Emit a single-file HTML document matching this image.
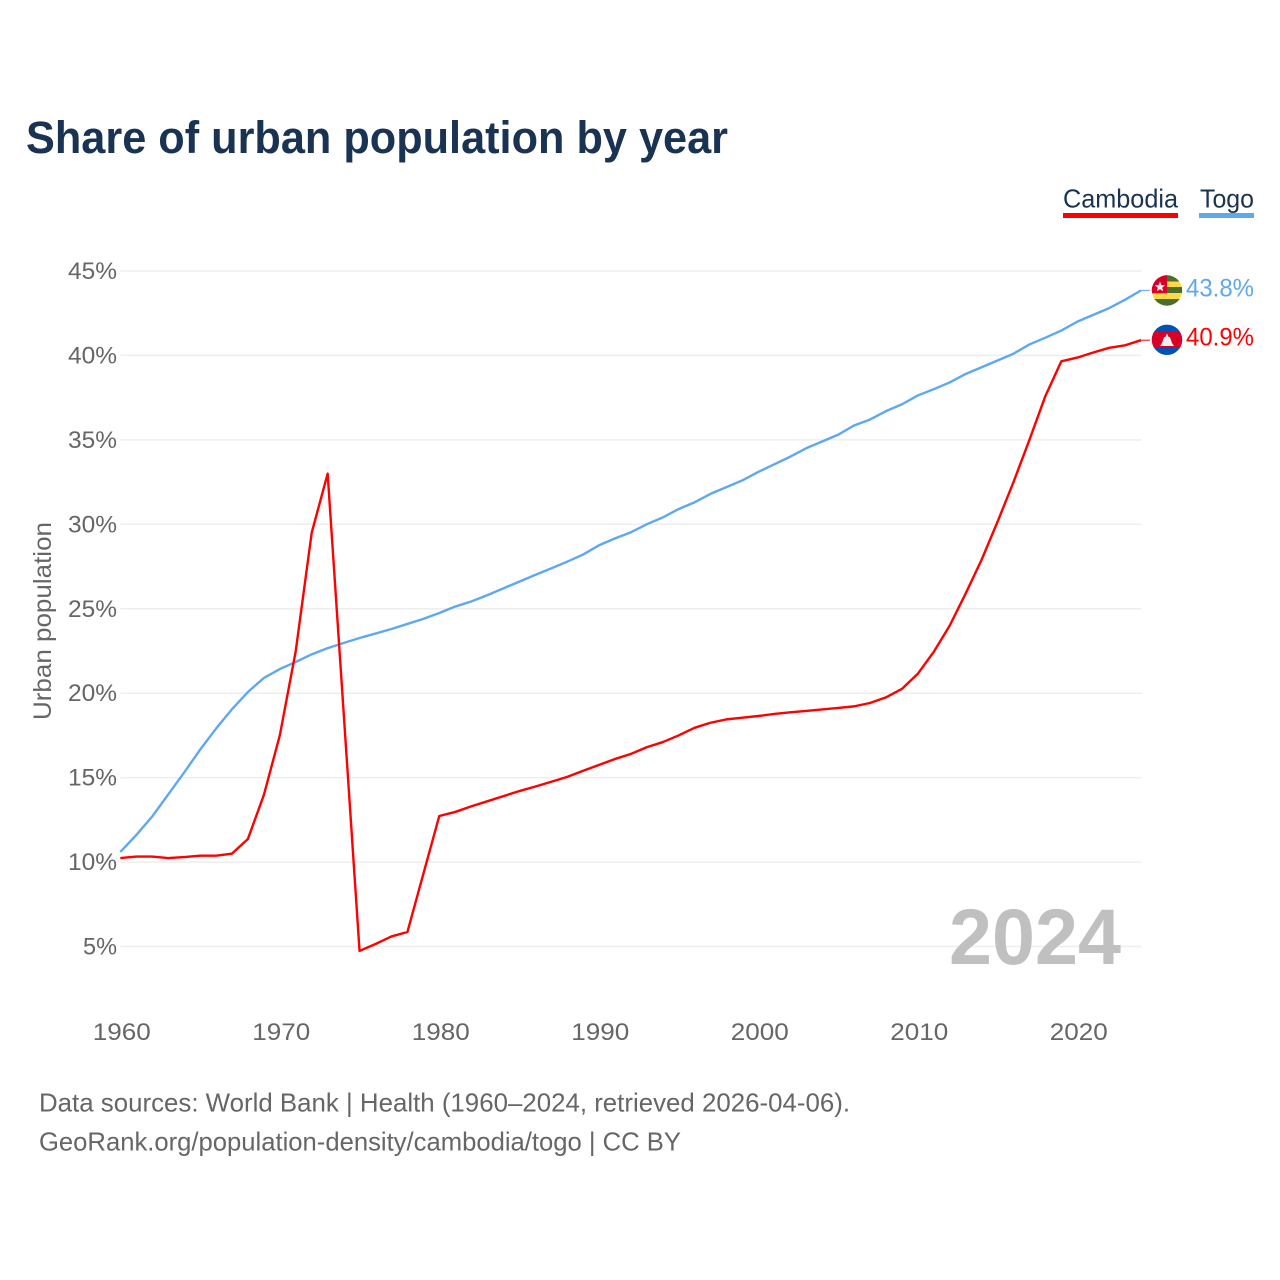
<!DOCTYPE html>
<html lang="en">
<head>
<meta charset="utf-8">
<title>Share of urban population by year</title>
<style>
html,body{margin:0;padding:0;background:#fff;width:1280px;height:1280px;overflow:hidden}
svg{display:block}
text{font-family:"Liberation Sans","DejaVu Sans",sans-serif}
</style>
</head>
<body>
<svg id="chart" xmlns="http://www.w3.org/2000/svg" width="1280" height="1280" viewBox="0 0 1280 1280">
  <defs>
    <clipPath id="togo-clip"><circle cx="1167" cy="290.5" r="15.2"/></clipPath>
    <clipPath id="cambodia-clip"><circle cx="1167" cy="339.8" r="15.2"/></clipPath>
  </defs>
  <rect x="0" y="0" width="1280" height="1280" fill="#fff"/>
  <text x="26" y="153" font-size="45" font-weight="700" fill="#1a3353" textLength="702" lengthAdjust="spacingAndGlyphs">Share of urban population by year</text>

  <g>
    <g>
      <text x="1063" y="207.5" font-size="26" fill="#1a3353" textLength="115" lengthAdjust="spacingAndGlyphs">Cambodia</text>
      <rect x="1063" y="213" width="115" height="5" fill="#ff0000"/>
    </g>
    <g>
      <text x="1200" y="207.5" font-size="26" fill="#1a3353" textLength="54" lengthAdjust="spacingAndGlyphs">Togo</text>
      <rect x="1199" y="213" width="55" height="5" fill="#5fa8ee"/>
    </g>
  </g>

  <g id="grid"></g>
  <g id="y-ticks"></g>
  <g id="x-ticks"></g>
  <text transform="translate(51,621) rotate(-90)" text-anchor="middle" font-size="25" fill="#666" textLength="198" lengthAdjust="spacingAndGlyphs">Urban population</text>

  <text id="year-label" x="1121" y="964" text-anchor="end" font-size="79" font-weight="700" fill="#bdbdbd" fill-opacity="0.95" textLength="172" lengthAdjust="spacingAndGlyphs">2024</text>

  <g id="series"></g>

  <g clip-path="url(#togo-clip)">
    <rect x="1151" y="275" width="32" height="31" fill="#ffda44"/>
    <rect x="1151" y="275" width="32" height="6.5" fill="#496e2d"/>
    <rect x="1151" y="287" width="32" height="6" fill="#496e2d"/>
    <rect x="1151" y="299" width="32" height="7" fill="#496e2d"/>
    <rect x="1151" y="275" width="16" height="18.3" fill="#d80027"/>
    <polygon points="1160,281.5 1161.4,285.1 1165.2,285.3 1162.2,287.7 1163.2,291.3 1160,289.3 1156.8,291.3 1157.8,287.7 1154.8,285.3 1158.6,285.1" fill="#f0f0f0"/>
  </g>
  <g clip-path="url(#cambodia-clip)">
    <rect x="1151" y="324" width="32" height="32" fill="#0052b4"/>
    <rect x="1151" y="332" width="32" height="15.7" fill="#d80027"/>
    <polygon points="1167,333.5 1168.6,337 1169.8,337 1171,340 1172,343 1174,346 1160,346 1162,343 1163,340 1164.2,337 1165.4,337" fill="#f0f0f0"/>
  </g>

  <text id="value-togo" x="1186" y="296.5" font-size="25" fill="#5fa8ee" textLength="68" lengthAdjust="spacingAndGlyphs"></text>
  <text id="value-cambodia" x="1186" y="345.5" font-size="25" fill="#ff0000" textLength="68" lengthAdjust="spacingAndGlyphs"></text>

  <text x="39" y="1111.5" font-size="26" fill="#666" textLength="811" lengthAdjust="spacingAndGlyphs">Data sources: World Bank | Health (1960–2024, retrieved 2026-04-06).</text>
  <text x="39" y="1150.5" font-size="26" fill="#666" textLength="642" lengthAdjust="spacingAndGlyphs">GeoRank.org/population-density/cambodia/togo | CC BY</text>
</svg>

<script>
const firstYear = 1960;
const yTickValues = [5, 10, 15, 20, 25, 30, 35, 40, 45];
const xTickYears = [1960, 1970, 1980, 1990, 2000, 2010, 2020];
const cambodiaValues = [
  10.24, 10.33, 10.33, 10.24, 10.30, 10.38, 10.38, 10.50, 11.37, 13.97,
  17.50, 22.50, 29.50, 33.00, 18.90, 4.74, 5.15, 5.60, 5.86, 9.30,
  12.73, 12.97, 13.30, 13.60, 13.90, 14.20, 14.47, 14.75, 15.04, 15.40,
  15.75, 16.10, 16.40, 16.80, 17.10, 17.50, 17.95, 18.25, 18.45, 18.55,
  18.65, 18.77, 18.87, 18.95, 19.04, 19.13, 19.22, 19.42, 19.75, 20.25,
  21.15, 22.45, 24.00, 25.90, 27.90, 30.15, 32.50, 35.00, 37.60, 39.65,
  39.87, 40.17, 40.45, 40.60, 40.90
];
const togoValues = [
  10.60, 11.60, 12.70, 14.00, 15.30, 16.65, 17.90, 19.05, 20.07, 20.90,
  21.43, 21.85, 22.30, 22.67, 22.97, 23.27, 23.53, 23.80, 24.10, 24.40,
  24.75, 25.13, 25.43, 25.80, 26.20, 26.60, 27.00, 27.38, 27.78, 28.20,
  28.75, 29.16, 29.52, 30.00, 30.40, 30.90, 31.30, 31.80, 32.20, 32.60,
  33.10, 33.55, 34.00, 34.50, 34.90, 35.30, 35.85, 36.20, 36.70, 37.10,
  37.63, 38.00, 38.40, 38.90, 39.30, 39.70, 40.10, 40.65, 41.05, 41.47,
  42.00, 42.40, 42.80, 43.30, 43.85
];
const cambodiaEndLabel = "40.9%";
const togoEndLabel = "43.8%";

const NS = "http://www.w3.org/2000/svg";
const xScale = function (year) { return 120.3 + (year - firstYear) * 15.95; };
const yScale = function (value) { return 1031 - value * 16.89; };

const gridGroup = document.getElementById("grid");
const yTickGroup = document.getElementById("y-ticks");
yTickValues.forEach(function (v) {
  const line = document.createElementNS(NS, "line");
  
  
  line.setAttribute("x1", 120.5);
  line.setAttribute("x2", 1141.5);
  line.setAttribute("y1", yScale(v));
  line.setAttribute("y2", yScale(v));
  line.setAttribute("stroke", "#eeeeee");
  line.setAttribute("stroke-width", "1.5");
  gridGroup.appendChild(line);

  const label = document.createElementNS(NS, "text");
  
  
  label.setAttribute("x", 117);
  label.setAttribute("y", yScale(v) + 8);
  label.setAttribute("text-anchor", "end");
  label.setAttribute("font-size", "24");
  label.setAttribute("fill", "#666");
  label.setAttribute("textLength", v < 10 ? 34 : 49);
  label.setAttribute("lengthAdjust", "spacingAndGlyphs");
  label.textContent = v + "%";
  yTickGroup.appendChild(label);
});

const xTickGroup = document.getElementById("x-ticks");
xTickYears.forEach(function (year) {
  const label = document.createElementNS(NS, "text");
  
  
  label.setAttribute("x", xScale(year) + 1.5);
  label.setAttribute("y", 1040);
  label.setAttribute("text-anchor", "middle");
  label.setAttribute("font-size", "24");
  label.setAttribute("fill", "#666");
  label.setAttribute("textLength", 58);
  label.setAttribute("lengthAdjust", "spacingAndGlyphs");
  label.textContent = year;
  xTickGroup.appendChild(label);
});

function linePath(values) {
  let d = "";
  values.forEach(function (v, i) {
    d += (i === 0 ? "M" : "L") + xScale(firstYear + i).toFixed(2) + " " + yScale(v).toFixed(2);
  });
  return d;
}

const seriesGroup = document.getElementById("series");

const togoLine = document.createElementNS(NS, "path");


togoLine.setAttribute("d", linePath(togoValues));
togoLine.setAttribute("fill", "none");
togoLine.setAttribute("stroke", "#5fa8ee");
togoLine.setAttribute("stroke-width", "2.4");
togoLine.setAttribute("stroke-linejoin", "round");
seriesGroup.appendChild(togoLine);

const cambodiaLine = document.createElementNS(NS, "path");


cambodiaLine.setAttribute("d", linePath(cambodiaValues));
cambodiaLine.setAttribute("fill", "none");
cambodiaLine.setAttribute("stroke", "#ff0000");
cambodiaLine.setAttribute("stroke-width", "2.4");
cambodiaLine.setAttribute("stroke-linejoin", "round");
seriesGroup.appendChild(cambodiaLine);

const lastIndex = togoValues.length - 1;
const lastX = xScale(firstYear + lastIndex);

const togoLeader = document.createElementNS(NS, "line");


togoLeader.setAttribute("x1", lastX);
togoLeader.setAttribute("x2", lastX + 9);
togoLeader.setAttribute("y1", yScale(togoValues[lastIndex]));
togoLeader.setAttribute("y2", yScale(togoValues[lastIndex]));
togoLeader.setAttribute("stroke", "#5fa8ee");
togoLeader.setAttribute("stroke-width", "1");
seriesGroup.appendChild(togoLeader);

const cambodiaLeader = document.createElementNS(NS, "line");


cambodiaLeader.setAttribute("x1", lastX);
cambodiaLeader.setAttribute("x2", lastX + 9);
cambodiaLeader.setAttribute("y1", yScale(cambodiaValues[lastIndex]));
cambodiaLeader.setAttribute("y2", yScale(cambodiaValues[lastIndex]));
cambodiaLeader.setAttribute("stroke", "#ff0000");
cambodiaLeader.setAttribute("stroke-width", "1");
seriesGroup.appendChild(cambodiaLeader);

document.getElementById("value-togo").textContent = togoEndLabel;
document.getElementById("value-cambodia").textContent = cambodiaEndLabel;
</script>
</body>
</html>
